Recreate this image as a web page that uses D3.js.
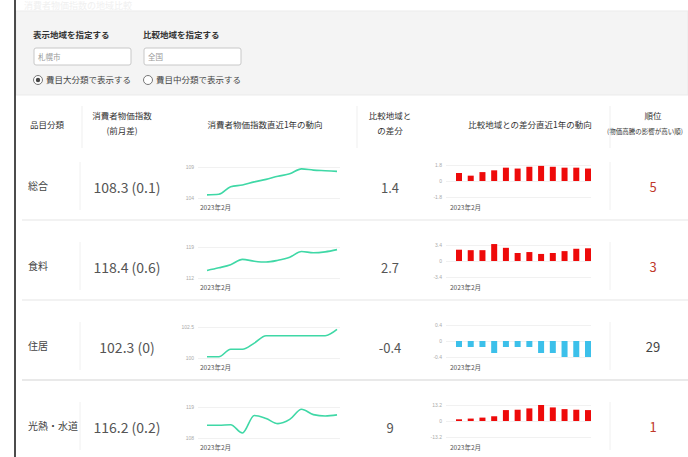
<!DOCTYPE html>
<html>
<head>
<meta charset="utf-8">
<script src="https://cdn.jsdelivr.net/npm/d3@7"></script>
<style>
  body { margin: 0; background: #fff; }
  svg { display: block; font-family: "Noto Sans CJK JP", "Noto Sans", sans-serif; }
</style>
</head>
<body>
<div id="chart"></div>
<script>
// categories and values
const categories = ['総合', '食料', '住居', '光熱・水道'];
const indexValues = ['108.3 (0.1)', '118.4 (0.6)', '102.3 (0)', '116.2 (0.2)'];
const diffValues = ['1.4', '2.7', '-0.4', '9'];
const ranks = ['5', '3', '29', '1'];
const rankHigh = [true, true, false, true];
const months = ['2023年2月', '2023年3月', '2023年4月', '2023年5月', '2023年6月', '2023年7月',
  '2023年8月', '2023年9月', '2023年10月', '2023年11月', '2023年12月', '2024年1月'];

// 消費者物価指数 直近1年
const cpiSeries = [
  [104.5, 104.6, 105.8, 106.1, 106.6, 107.0, 107.5, 107.9, 108.7, 108.5, 108.4, 108.3],
  [113.7, 114.3, 115.0, 116.2, 115.8, 115.6, 116.0, 116.7, 118.0, 117.7, 117.9, 118.4],
  [100.1, 100.1, 100.7, 100.7, 101.2, 101.8, 101.8, 101.8, 101.8, 101.8, 101.8, 102.3],
  [112.5, 112.5, 112.7, 109.8, 116.0, 114.9, 113.1, 114.6, 118.2, 116.3, 115.8, 116.2]
];
const cpiTicks = [[104, 109], [112, 119], [100, 102.5], [108, 119]];

// 比較地域との差分 直近1年
const diffSeries = [
  [0.9, 0.6, 1.0, 1.2, 1.5, 1.4, 1.6, 1.7, 1.6, 1.5, 1.5, 1.4],
  [2.4, 2.3, 2.3, 3.6, 2.8, 1.7, 1.9, 1.5, 1.7, 2.1, 2.6, 2.7],
  [-0.15, -0.15, -0.15, -0.3, -0.15, -0.15, -0.15, -0.3, -0.3, -0.4, -0.4, -0.4],
  [1.4, 2.0, 2.8, 3.9, 9.0, 9.3, 10.4, 13.2, 11.2, 9.8, 9.3, 9.0]
];
const diffTicks = [1.8, 3.4, 0.4, 13.2];

const headers = [
  { x: 47, lines: ['品目分類'] },
  { x: 122, lines: ['消費者物価指数', '(前月差)'] },
  { x: 265, lines: ['消費者物価指数直近1年の動向'] },
  { x: 390, lines: ['比較地域と', 'の差分'] },
  { x: 530, lines: ['比較地域との差分直近1年の動向'] },
  { x: 653, lines: ['順位'], sub: true }
];

const W = 688, H = 457;
const svg = d3.select('#chart').append('svg').attr('width', W).attr('height', H);

// faint title strip
svg.append('text').attr('x', 24).attr('y', 9).attr('font-size', 9)
  .attr('fill', '#f0f0f0').text('消費者物価指数の地域比較');

// filter panel
svg.append('rect').attr('x', 16).attr('y', 11).attr('width', W - 16).attr('height', 84)
  .attr('fill', '#f4f4f4').attr('stroke', '#ebebeb');

const filt = svg.append('g');
[['表示地域を指定する', '札幌市', 33], ['比較地域を指定する', '全国', 143]].forEach(([lab, val, x]) => {
  filt.append('text').attr('x', x).attr('y', 38).attr('font-size', 8.5).attr('font-weight', 'bold')
    .attr('fill', '#333').text(lab);
  filt.append('rect').attr('x', x + 1).attr('y', 48).attr('width', 97).attr('height', 17)
    .attr('rx', 2).attr('fill', '#fff').attr('stroke', '#c8c8c8');
  filt.append('text').attr('x', x + 5).attr('y', 60).attr('font-size', 7.5).attr('fill', '#999').text(val);
});
[['費目大分類で表示する', 38, true], ['費目中分類で表示する', 148, false]].forEach(([lab, x, on]) => {
  filt.append('circle').attr('cx', x).attr('cy', 80).attr('r', 4.5).attr('fill', '#fff').attr('stroke', '#777');
  if (on) filt.append('circle').attr('cx', x).attr('cy', 80).attr('r', 2.2).attr('fill', '#444');
  filt.append('text').attr('x', x + 8).attr('y', 83).attr('font-size', 8.5).attr('fill', '#444').text(lab);
});

// header row
const head = svg.append('g');
headers.forEach(h => {
  const y0 = (h.lines.length === 1 && !h.sub) ? 128 : 119;
  h.lines.forEach((t, i) => {
    head.append('text').attr('x', h.x).attr('y', y0 + i * 15).attr('text-anchor', 'middle')
      .attr('font-size', 8.5).attr('fill', '#333').text(t);
  });
});
head.append('text').attr('x', 607).attr('y', 134).attr('font-size', 6.5).attr('fill', '#333')
  .text('(物価高騰の影響が高い順)');
[82, 357, 610].forEach(x => {
  head.append('line').attr('x1', x).attr('x2', x).attr('y1', 106).attr('y2', 148)
    .attr('stroke', '#efefef');
});

// rows
const rowCenter = d3.scalePoint().domain(d3.range(categories.length)).range([187, 427]);
const xLine = d3.scalePoint().domain(months).range([207, 337]);
const xBar = d3.scalePoint().domain(months).range([459, 588]);

categories.forEach((cat, i) => {
  const cy = rowCenter(i);
  const g = svg.append('g');

  if (i > 0) {
    g.append('line').attr('x1', 22).attr('x2', W).attr('y1', cy - 47).attr('y2', cy - 47)
      .attr('stroke', i === 3 ? '#e9e9e9' : '#eeeeee').attr('stroke-width', i === 3 ? 2 : 1.5);
  }
  [80, 610].forEach(x => {
    g.append('line').attr('x1', x).attr('x2', x).attr('y1', cy - 25).attr('y2', cy + 23)
      .attr('stroke', '#f0f0f0');
  });

  g.append('text').attr('x', 28).attr('y', cy + 3).attr('font-size', 10).attr('fill', '#444').text(cat);
  g.append('text').attr('x', 127).attr('y', cy + 6).attr('text-anchor', 'middle')
    .attr('font-size', 14).attr('fill', '#555').text(indexValues[i]);
  g.append('text').attr('x', 390).attr('y', cy + 6).attr('text-anchor', 'middle')
    .attr('font-size', 13).attr('fill', '#555').text(diffValues[i]);
  g.append('text').attr('x', 653).attr('y', cy + 5).attr('text-anchor', 'middle')
    .attr('font-size', 13).attr('fill', rankHigh[i] ? '#c0392b' : '#444').text(ranks[i]);

  /* ------- CPI SPARKLINE ------- */
  const y = d3.scaleLinear().domain(cpiTicks[i]).range([cy + 11, cy - 20]);
  const yAxis = d3.axisLeft(y).tickValues(cpiTicks[i]).tickSize(-142).tickFormat(d => d);
  const ya = g.append('g').attr('transform', 'translate(198,0)').call(yAxis);
  ya.select('.domain').remove();
  ya.selectAll('line').attr('stroke', '#f1f1f1');
  ya.selectAll('text').attr('font-size', 5).attr('fill', '#aaa').attr('x', -4);

  g.append('path').datum(cpiSeries[i])
    .attr('fill', 'none').attr('stroke', '#3fd8a6').attr('stroke-width', 1.6)
    .attr('d', d3.line().x((d, j) => xLine(months[j])).y(d => y(d)).curve(d3.curveMonotoneX));
  g.append('text').attr('x', 200).attr('y', cy + 23).attr('font-size', 6.5).attr('fill', '#555').text(months[0]);

  /* ------- DIFF BARS ------- */
  const m = diffTicks[i];
  const yb = d3.scaleLinear().domain([-m, m]).range([cy + 10, cy - 22]);
  const bAxis = d3.axisLeft(yb).tickValues([-m, 0, m]).tickSize(-145).tickFormat(d => d);
  const ba = g.append('g').attr('transform', 'translate(446,0)').call(bAxis);
  ba.select('.domain').remove();
  ba.selectAll('line').attr('stroke', '#f1f1f1');
  ba.selectAll('text').attr('font-size', 5).attr('fill', '#aaa').attr('x', -4);

  g.selectAll('rect.bar').data(diffSeries[i]).enter().append('rect')
    .attr('class', 'bar')
    .attr('x', (d, j) => xBar(months[j]) - 3)
    .attr('width', 6)
    .attr('y', d => yb(Math.max(0, d)))
    .attr('height', d => Math.abs(yb(d) - yb(0)))
    .attr('fill', d => d >= 0 ? '#ee0a0a' : '#3cc0ea');
  g.append('text').attr('x', 450).attr('y', cy + 23).attr('font-size', 6.5).attr('fill', '#555').text(months[0]);
});

// left border
svg.append('line').attr('x1', 15).attr('x2', 15).attr('y1', 0).attr('y2', H)
  .attr('stroke', '#111').attr('stroke-width', 1.5);
</script>
</body>
</html>
